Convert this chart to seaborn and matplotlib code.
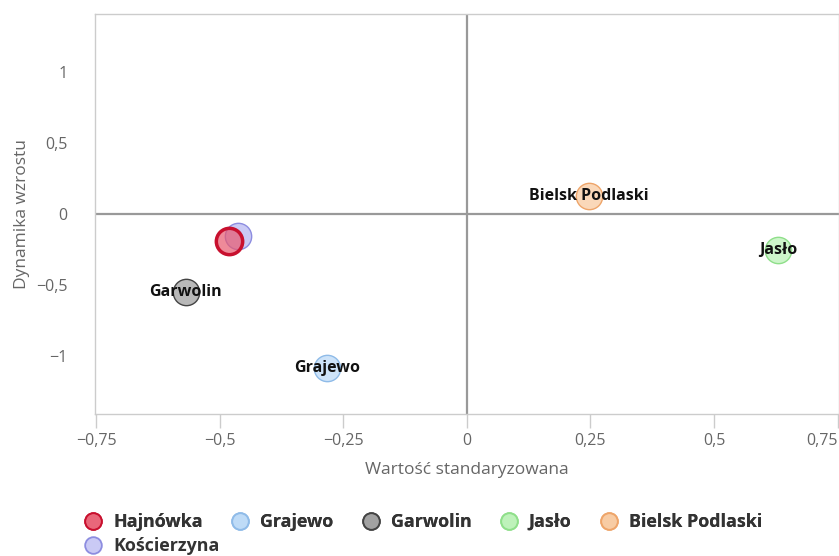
import numpy as np
import pandas as pd
import matplotlib.pyplot as plt
import seaborn as sns
from matplotlib.lines import Line2D
from matplotlib.colors import to_rgb

sns.set_style('white')
plt.rcParams['font.family'] = ['Open Sans', 'DejaVu Sans']

# Data
cities = ['Hajnówka', 'Grajewo', 'Garwolin', 'Jasło', 'Bielsk Podlaski', 'Kościerzyna']
x_vals = [-0.482, -0.283, -0.569, 0.630, 0.247, -0.464]
y_vals = [-0.190, -1.085, -0.550, -0.254, 0.127, -0.155]
fill_colors = ['#e8596e', '#b9d8f7', '#9a9a9a', '#b8f2b4', '#f8c89c', '#b4b4f2']
edge_colors = ['#c8102e', '#8fbbe8', '#444444', '#8fdf8a', '#eea56a', '#8d8de0']
show_label = [False, True, True, True, True, False]
x_ticks = [-0.75, -0.5, -0.25, 0, 0.25, 0.5, 0.75]
y_ticks = [-1, -0.5, 0, 0.5, 1]

df = pd.DataFrame({'city': cities, 'x': x_vals, 'y': y_vals})

fig = plt.figure(figsize=(8.39, 5.56), dpi=100)
ax = fig.add_axes([0.1132, 0.2554, 0.8868, 0.7194])

# zero lines
ax.axhline(0, color='#999999', lw=1.6, zorder=1)
ax.axvline(0, color='#999999', lw=1.6, zorder=1)

# draw Hajnówka last so it sits on top
order = [5, 1, 2, 3, 4, 0]
for z, i in enumerate(order):
    sub = df.iloc[[i]]
    sns.scatterplot(data=sub, x='x', y='y', ax=ax, s=360, legend=False,
                    color=fill_colors[i], edgecolor=edge_colors[i],
                    linewidth=2.5 if i == 0 else 1.0, zorder=3 + z)
    coll = ax.collections[-1]
    coll.set_facecolor([(*to_rgb(fill_colors[i]), 0.7)])

for i, c in enumerate(cities):
    if show_label[i]:
        ax.text(x_vals[i], y_vals[i], c, ha='center', va='center',
                fontsize=11.5, fontweight='bold', color='#111111', zorder=20)

ax.set_xlim(-0.753, 0.753)
ax.set_ylim(-1.408, 1.408)
ax.set_xticks(x_ticks)
ax.set_yticks(y_ticks)


def fmt(v):
    s = ('%g' % v).replace('.', ',').replace('-', '\u2212')
    return s


ax.set_xticklabels([fmt(v) for v in x_ticks])
ax.set_yticklabels([fmt(v) for v in y_ticks])
ax.get_xticklabels()[-1].set_ha('right')
ax.tick_params(axis='x', length=10, width=1, color='#cccccc', colors='#666666',
               labelsize=11.5, pad=4, bottom=True)
ax.tick_params(axis='x', color='#cccccc')
ax.tick_params(axis='y', length=0, labelsize=11.5, colors='#666666', pad=20)
for sp in ax.spines.values():
    sp.set_color('#cccccc')
    sp.set_linewidth(1)

ax.set_xlabel('Wartość standaryzowana', color='#666666', fontsize=12.5, labelpad=9)
ax.set_ylabel('Dynamika wzrostu', color='#666666', fontsize=12.5, labelpad=4)

# legend: first row of five, then Kościerzyna on a second row
def handle(i):
    return Line2D([], [], marker='o', linestyle='', markersize=12,
                  markerfacecolor=(*to_rgb(fill_colors[i]), 0.7),
                  markeredgecolor=edge_colors[i], markeredgewidth=1.3)


leg_kw = dict(frameon=False, handletextpad=0.6, columnspacing=1.6, borderpad=0,
              prop={'weight': 'bold', 'size': 12.9}, labelcolor='#333333',
              loc='center left', handlelength=1.0)
leg1 = fig.legend([handle(i) for i in range(5)], cities[:5], ncol=5,
                  bbox_to_anchor=(0.090, 0.061), **leg_kw)
fig.add_artist(leg1)
fig.legend([handle(5)], cities[5:], ncol=1, bbox_to_anchor=(0.090, 0.018), **leg_kw)

fig.savefig('out.png', dpi=100)
